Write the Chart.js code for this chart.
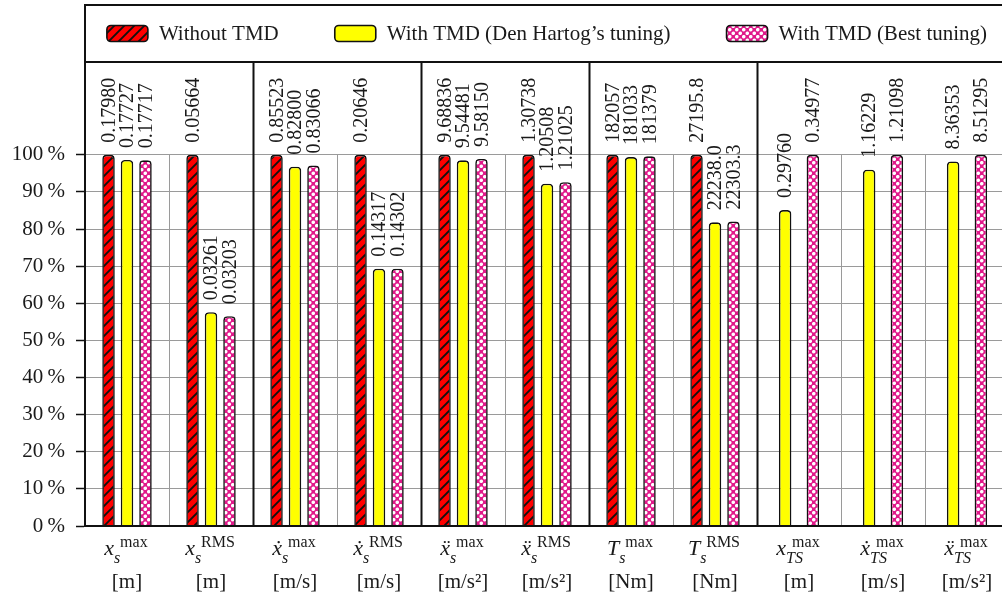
<!DOCTYPE html>
<html><head><meta charset="utf-8">
<script src="https://cdn.jsdelivr.net/npm/chart.js@4.4.1/dist/chart.umd.min.js"></script>
<style>html,body{margin:0;padding:0;overflow:hidden;background:#fff}#wrap{width:1011px;height:600px;position:relative}</style>
</head><body><div id="wrap"><canvas id="c"></canvas></div>
<script>
// ---- data ----
const categories = ['x_s max','x_s RMS','ẋ_s max','ẋ_s RMS','ẍ_s max','ẍ_s RMS','T_s max','T_s RMS','x_TS max','ẋ_TS max','ẍ_TS max'];
const symbols = ['x','x','ẋ','ẋ','ẍ','ẍ','T','T','x','ẋ','ẍ'];
const subscripts = ['s','s','s','s','s','s','s','s','TS','TS','TS'];
const superscripts = ['max','RMS','max','RMS','max','RMS','max','RMS','max','max','max'];
const units = ['[m]','[m]','[m/s]','[m/s]','[m/s²]','[m/s²]','[Nm]','[Nm]','[m]','[m/s]','[m/s²]'];
const seriesNames = ['Without TMD', 'With TMD (Den Hartog’s tuning)', 'With TMD (Best tuning)'];
const withoutTMD = [100,100,100,100,100,100,100,100,null,null,null];
const denHartog  = [98.6,57.6,96.8,69.3,98.5,92.2,99.4,81.8,85.1,96.0,98.2];
const bestTuning = [98.5,56.5,97.1,69.3,98.9,92.6,99.6,82.0,100,100,100];
const withoutLabels   = ['0.17980','0.05664','0.85523','0.20646','9.68836','1.30738','182057','27195.8',null,null,null];
const denHartogLabels = ['0.17727','0.03261','0.82800','0.14317','9.54481','1.20508','181033','22238.0','0.29760','1.16229','8.36353'];
const bestLabels      = ['0.17717','0.03203','0.83066','0.14302','9.58150','1.21025','181379','22303.3','0.34977','1.21098','8.51295'];
const groupEnds = [1,3,5,7];
const valueLabels = [withoutLabels, denHartogLabels, bestLabels];

// ---- patterns ----
const SERIF = '"Liberation Serif", "Times New Roman", serif';
function hatchPattern(){
  const s=10, c=document.createElement('canvas'); c.width=c.height=s;
  const g=c.getContext('2d'); g.fillStyle='#ff0000'; g.fillRect(0,0,s,s);
  g.strokeStyle='#111'; g.lineWidth=1.9; g.beginPath();
  for (const o of [-s,0,s]) { g.moveTo(o-1,s+1); g.lineTo(o+s+1,-1); }
  g.stroke(); return g.createPattern(c,'repeat');
}
function dotPattern(){
  const c=document.createElement('canvas'); c.width=c.height=7;
  const g=c.getContext('2d'); g.fillStyle='#e0198a'; g.fillRect(0,0,7,7);
  g.fillStyle='#ffffff';
  for (const [x,y] of [[1.75,1.75],[5.25,5.25]]) { g.beginPath(); g.arc(x,y,1.8,0,Math.PI*2); g.fill(); }
  return g.createPattern(c,'repeat');
}
const fills = [hatchPattern(), '#ffff00', dotPattern()];

const decor = {
  id:'decor',
  beforeDatasetsDraw(chart){
    const {ctx, chartArea:a, scales:{x,y}} = chart;
    ctx.save();
    for (let i=0;i<categories.length-1;i++){
      const px = Math.round((x.getPixelForValue(i)+x.getPixelForValue(i+1))/2)+0.5;
      ctx.beginPath();
      if (groupEnds.includes(i)) { ctx.strokeStyle='#111'; ctx.lineWidth=2; ctx.moveTo(px,a.top); }
      else { ctx.strokeStyle='#9a9a9a'; ctx.lineWidth=1; ctx.moveTo(px,y.getPixelForValue(100)); }
      ctx.lineTo(px,a.bottom); ctx.stroke();
    }
    ctx.restore();
  },
  afterDatasetsDraw(chart){
    const {ctx} = chart;
    ctx.save();
    ctx.font = '20px '+SERIF; ctx.fillStyle='#1a1a1a';
    chart.data.datasets.forEach((ds,di)=>{
      const meta = chart.getDatasetMeta(di);
      meta.data.forEach((bar,i)=>{
        const t = valueLabels[di][i];
        if (t==null || ds.data[i]==null) return;
        ctx.save(); ctx.translate(bar.x+1, bar.y-12); ctx.rotate(-Math.PI/2);
        ctx.textAlign='left'; ctx.textBaseline='middle'; ctx.fillText(t,0,0); ctx.restore();
      });
    });
    ctx.restore();
  },
  afterDraw(chart){
    const {ctx, chartArea:a, scales:{x}} = chart;
    ctx.save();
    // frame + header line
    ctx.strokeStyle='#111'; ctx.lineWidth=2;
    ctx.strokeRect(a.left, 5, a.right-a.left, a.bottom-5);
    ctx.beginPath(); ctx.moveTo(a.left,a.top); ctx.lineTo(a.right,a.top); ctx.stroke();
    // legend
    ctx.font='21px '+SERIF; ctx.textBaseline='middle'; ctx.textAlign='left';
    const boxW=41, boxH=16, gapBT=11, gapItems=56;
    const widths = seriesNames.map(n=>boxW+gapBT+ctx.measureText(n).width);
    const total = widths.reduce((s,w)=>s+w,0)+gapItems*(widths.length-1);
    let lx = (a.left+a.right)/2 - total/2; const cy = (5+a.top)/2;
    seriesNames.forEach((n,i)=>{
      ctx.beginPath(); ctx.roundRect(lx, cy-boxH/2, boxW, boxH, 4);
      ctx.fillStyle=fills[i]; ctx.fill(); ctx.lineWidth=1.6; ctx.strokeStyle='#111'; ctx.stroke();
      ctx.fillStyle='#1a1a1a'; ctx.fillText(n, lx+boxW+gapBT, cy+1);
      lx += widths[i]+gapItems;
    });
    // x-axis labels
    ctx.textBaseline='alphabetic';
    categories.forEach((c,i)=>{
      const cx = x.getPixelForValue(i);
      ctx.font='italic 22px '+SERIF; const wm = ctx.measureText(symbols[i]).width;
      ctx.font='italic 16px '+SERIF; const ws = ctx.measureText(subscripts[i]).width;
      ctx.font='16px '+SERIF; const wp = ctx.measureText(superscripts[i]).width;
      const off = 6;
      const w = wm + Math.max(ws, off+wp);
      const x0 = cx - w/2 - 1;
      ctx.fillStyle='#1a1a1a';
      ctx.font='italic 22px '+SERIF; ctx.fillText(symbols[i], x0, a.bottom+29);
      ctx.font='italic 16px '+SERIF; ctx.fillText(subscripts[i], x0+wm, a.bottom+37);
      ctx.font='16px '+SERIF; ctx.fillText(superscripts[i], x0+wm+off, a.bottom+21);
      ctx.font='21px '+SERIF; ctx.textAlign='center'; ctx.fillText(units[i], cx, a.bottom+62); ctx.textAlign='left';
    });
    ctx.restore();
  }
};

const mk = (label, data, i) => ({label, data, backgroundColor: fills[i], borderColor:'#111', borderWidth:1.6,
  borderRadius:{topLeft:4, topRight:4, bottomLeft:0, bottomRight:0}, borderSkipped:'start'});

new Chart(document.getElementById('c'), {
  type:'bar',
  data:{ labels: categories, datasets:[ mk(seriesNames[0], withoutTMD, 0), mk(seriesNames[1], denHartog, 1), mk(seriesNames[2], bestTuning, 2) ] },
  options:{
    responsive:true, maintainAspectRatio:false, animation:false,
    layout:{ padding:{ top:62, right:2, bottom:74, left:0 } },
    skipNull:true,
    datasets:{ bar:{ categoryPercentage:0.66, barPercentage:0.68, maxBarThickness:12.5, skipNull:true } },
    plugins:{ legend:{display:false}, tooltip:{enabled:false} },
    scales:{
      x:{ grid:{display:false, drawTicks:false}, ticks:{display:false}, border:{display:true, color:'#111', width:2} },
      y:{ min:0, max:125,
        afterBuildTicks: s => { s.ticks = s.ticks.filter(t => t.value <= 100); },
        afterFit: s => { s.width = 85; },
        ticks:{ stepSize:10, padding:11, color:'#1a1a1a', font:{family:'"Liberation Serif", serif', size:21},
          callback: v => v + '\u2009%' },
        grid:{ color:'#9a9a9a', lineWidth:1, tickColor:'#111', tickLength:9, tickWidth:1.5 },
        border:{ display:true, color:'#111', width:2 } }
    }
  },
  plugins:[decor]
});
</script></body></html>
